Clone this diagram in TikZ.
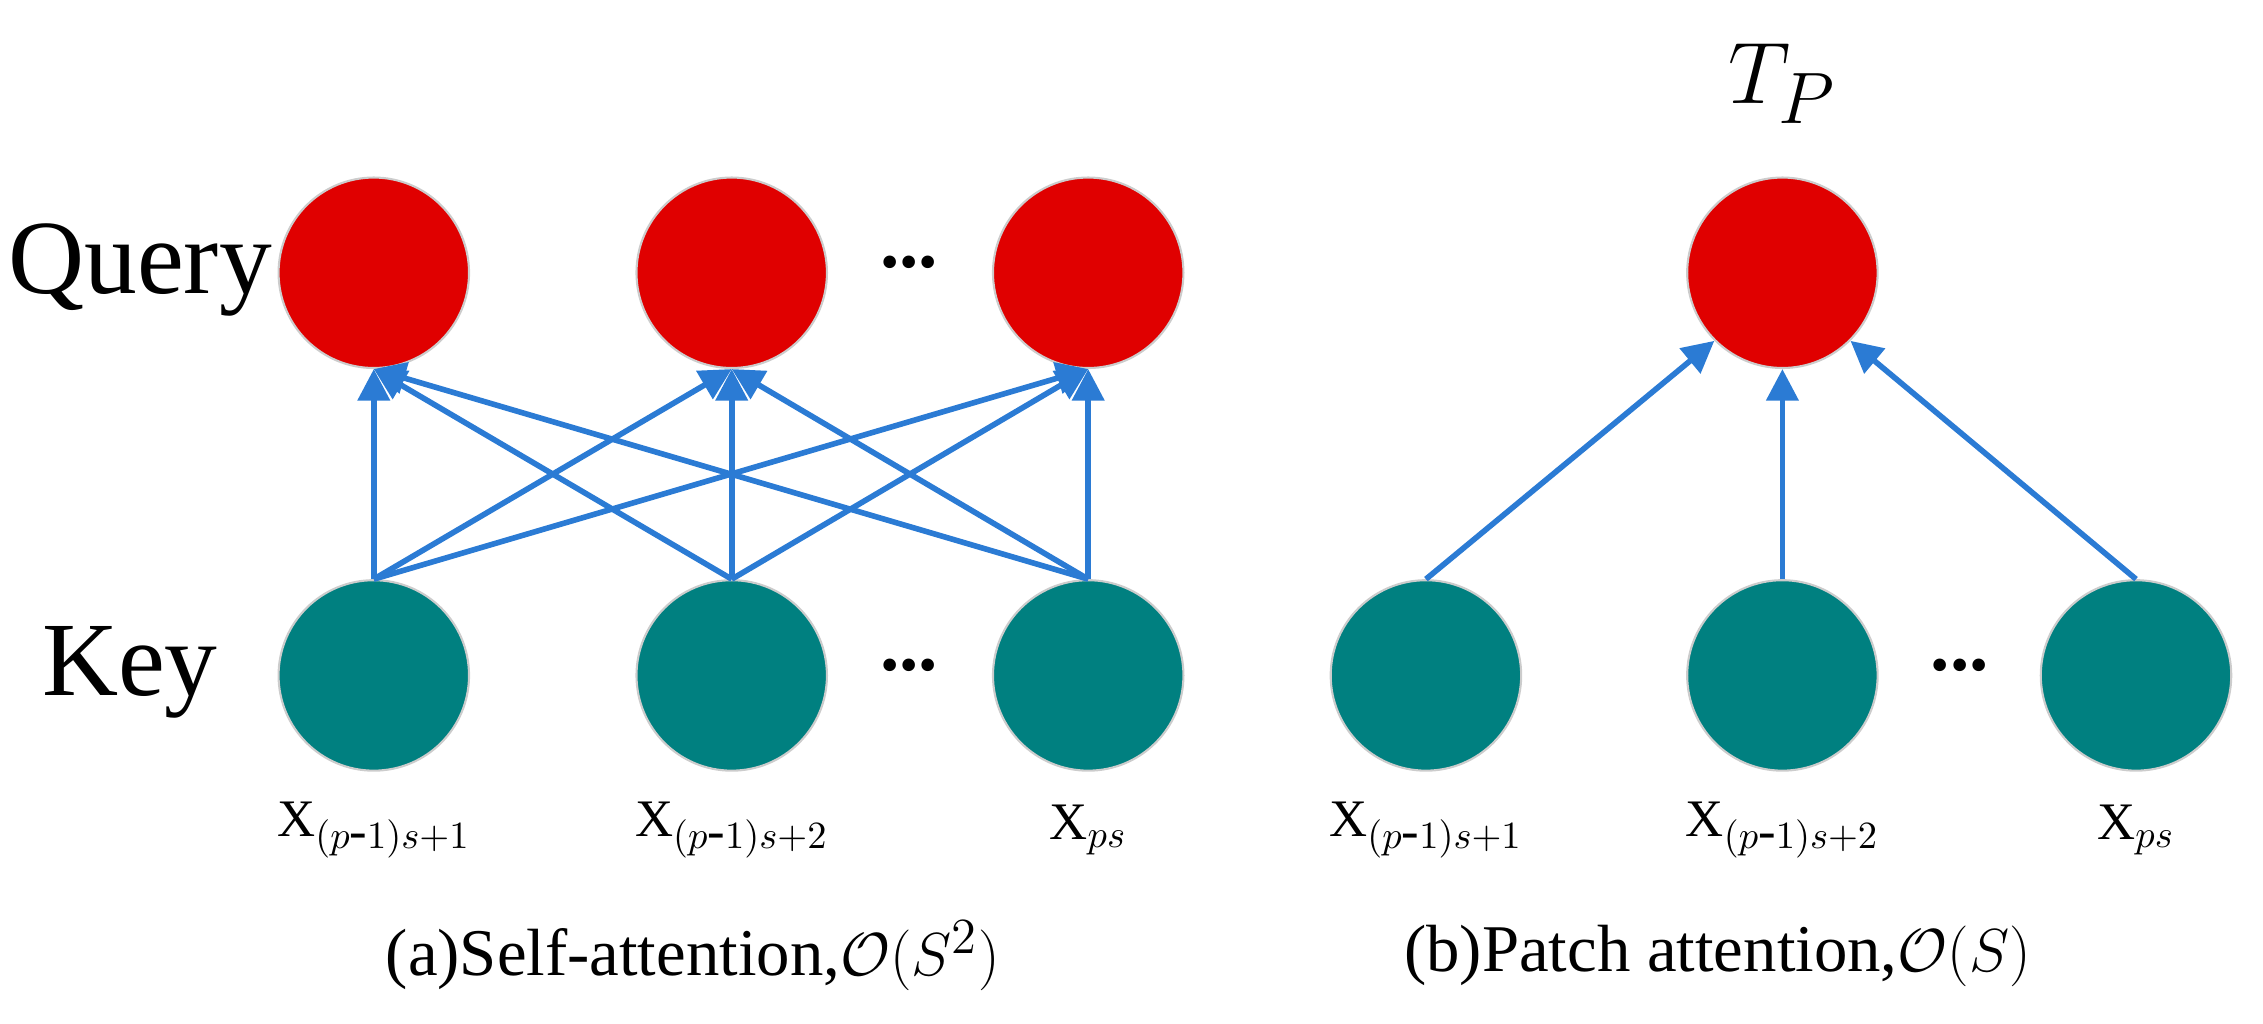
\documentclass[tikz,border=0pt]{standalone}
\usepackage{fontspec}
\setmainfont{Liberation Serif}
\usetikzlibrary{arrows.meta}
\newcommand{\hy}{\mbox{-}}
\begin{document}
\begin{tikzpicture}[x=0.01443cm,y=-0.01443cm,
  q/.style={circle,fill={rgb,255:red,224;green,0;blue,0},draw=gray!40,line width=0.6pt,minimum size=1.905cm,inner sep=0},
  k/.style={circle,fill={rgb,255:red,0;green,128;blue,128},draw=gray!40,line width=0.6pt,minimum size=1.905cm,inner sep=0},
  ar/.style={draw={rgb,255:red,43;green,123;blue,212},line width=1.6pt,-{Triangle[length=9pt,width=9pt]}},
  lab/.style={font=\fontsize{15}{18}\selectfont},
  captxt/.style={font=\fontsize{19}{22}\selectfont},
  big/.style={font=\fontsize{30}{34}\selectfont},
  dots/.style={font=\fontsize{22}{24}\selectfont\bfseries}]
\useasboundingbox (0,0) rectangle (1568,709);
\node[q] (q1) at (259,189) {};
\node[q] (q2) at (507,189) {};
\node[q] (q3) at (754,189) {};
\node[k] (k1) at (259,468) {};
\node[k] (k2) at (507,468) {};
\node[k] (k3) at (754,468) {};
\node[q] (t) at (1235,189) {};
\node[k] (r1) at (988,468) {};
\node[k] (r2) at (1235,468) {};
\node[k] (r3) at (1480,468) {};
\node[big] (lq) at (97,187) {Query};
\node[big] (lk) at (90,466) {Key};
\node[dots] (d1) at (630,182) {...};
\node[dots] (d2) at (630,461) {...};
\node[dots] (d3) at (1358,461) {...};
\node[font=\fontsize{32}{36}\selectfont] (tp) at (1235,58) {$T_{P}$};
\foreach \a in {k1,k2,k3}{\foreach \b in {q1,q2,q3}{\draw[ar] (\a.north) -- (\b.south);}}
\draw[ar] (r1.north) -- (t.225);
\draw[ar] (r2.north) -- (t.south);
\draw[ar] (r3.north) -- (t.315);
\node[lab] (x1) at (259,575) {X$_{(p\hy1)s+1}$};
\node[lab] (x2) at (507,575) {X$_{(p\hy1)s+2}$};
\node[lab] (x3) at (754,575) {X$_{ps}$};
\node[lab] (y1) at (988,575) {X$_{(p\hy1)s+1}$};
\node[lab] (y2) at (1235,575) {X$_{(p\hy1)s+2}$};
\node[lab] (y3) at (1480,575) {X$_{ps}$};
\node[captxt] (ca) at (480,662) {(a)Self-attention,$\mathcal{O}(S^2)$};
\node[captxt] (cb) at (1190,662) {(b)Patch attention,$\mathcal{O}(S)$};
\end{tikzpicture}
\end{document}
